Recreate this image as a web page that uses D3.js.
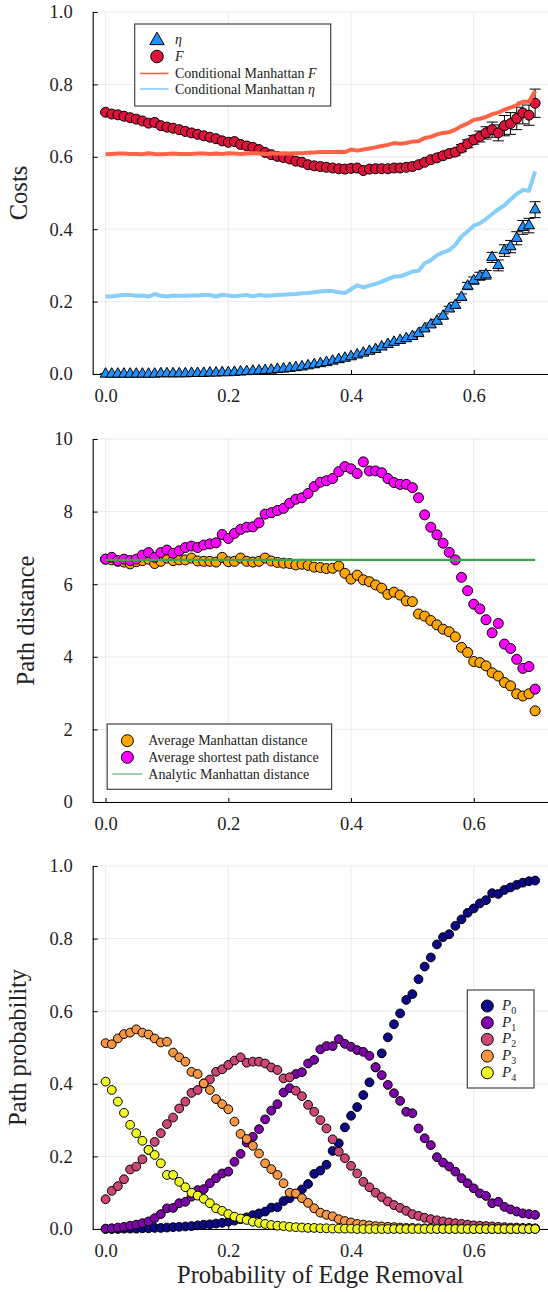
<!DOCTYPE html>
<html>
<head>
<meta charset="utf-8">
<script src="https://cdn.jsdelivr.net/npm/d3@7"></script>
<style>
  body { margin: 0; background: #fff; }
  svg text { font-family: "Liberation Serif", "Times New Roman", serif; fill: #222; }
</style>
</head>
<body>
<svg id="chart" width="548" height="1292"></svg>
<script>
// probability of edge removal, shared x for every series
var removal = [0.00,0.01,0.02,0.03,0.04,0.05,0.06,0.07,0.08,0.09,
  0.10,0.11,0.12,0.13,0.14,0.15,0.16,0.17,0.18,0.19,
  0.20,0.21,0.22,0.23,0.24,0.25,0.26,0.27,0.28,0.29,
  0.30,0.31,0.32,0.33,0.34,0.35,0.36,0.37,0.38,0.39,
  0.40,0.41,0.42,0.43,0.44,0.45,0.46,0.47,0.48,0.49,
  0.50,0.51,0.52,0.53,0.54,0.55,0.56,0.57,0.58,0.59,
  0.60,0.61,0.62,0.63,0.64,0.65,0.66,0.67,0.68,0.69,
  0.70];

// --- costs panel
var eta = [0.000,0.000,0.000,0.000,0.000,0.000,0.000,0.000,0.000,0.001,
  0.001,0.001,0.001,0.001,0.002,0.002,0.002,0.003,0.003,0.004,
  0.004,0.005,0.006,0.007,0.008,0.009,0.010,0.011,0.013,0.014,
  0.016,0.018,0.020,0.023,0.026,0.029,0.032,0.036,0.040,0.044,
  0.048,0.053,0.058,0.063,0.068,0.075,0.082,0.088,0.093,0.098,
  0.104,0.112,0.125,0.136,0.146,0.160,0.180,0.190,0.212,0.243,
  0.258,0.270,0.274,0.322,0.300,0.341,0.352,0.375,0.405,0.410,
  0.454];
var etaErr = [0.000,0.000,0.000,0.000,0.000,0.000,0.000,0.000,0.000,0.000,
  0.001,0.001,0.001,0.001,0.001,0.001,0.001,0.001,0.001,0.001,
  0.001,0.001,0.001,0.001,0.001,0.001,0.001,0.001,0.001,0.001,
  0.002,0.002,0.002,0.002,0.002,0.002,0.002,0.002,0.002,0.002,
  0.002,0.002,0.002,0.002,0.002,0.002,0.002,0.002,0.002,0.002,
  0.003,0.004,0.004,0.005,0.005,0.006,0.007,0.008,0.009,0.010,
  0.010,0.011,0.012,0.014,0.015,0.016,0.017,0.018,0.019,0.020,
  0.022];
var costF = [0.723,0.718,0.716,0.712,0.708,0.704,0.699,0.693,0.695,0.686,
  0.682,0.679,0.675,0.670,0.666,0.662,0.658,0.654,0.650,0.644,
  0.640,0.642,0.634,0.630,0.626,0.620,0.612,0.606,0.601,0.598,
  0.594,0.588,0.585,0.578,0.575,0.573,0.571,0.569,0.567,0.566,
  0.568,0.569,0.562,0.566,0.567,0.567,0.567,0.569,0.569,0.571,
  0.573,0.578,0.585,0.592,0.597,0.603,0.609,0.613,0.624,0.636,
  0.647,0.656,0.666,0.675,0.666,0.686,0.692,0.706,0.721,0.715,
  0.748];
var costFErr = [0.002,0.002,0.002,0.002,0.002,0.002,0.002,0.002,0.002,0.002,
  0.002,0.002,0.002,0.002,0.002,0.002,0.002,0.002,0.002,0.002,
  0.002,0.002,0.002,0.002,0.002,0.002,0.002,0.002,0.002,0.002,
  0.002,0.002,0.002,0.002,0.002,0.002,0.002,0.002,0.002,0.002,
  0.003,0.003,0.003,0.003,0.003,0.003,0.003,0.003,0.003,0.003,
  0.004,0.005,0.005,0.006,0.007,0.008,0.009,0.009,0.010,0.011,
  0.012,0.015,0.017,0.021,0.022,0.028,0.030,0.031,0.030,0.028,
  0.039];
var condF = [0.607,0.608,0.609,0.609,0.608,0.608,0.607,0.610,0.608,0.607,
  0.608,0.609,0.608,0.608,0.608,0.609,0.609,0.608,0.609,0.608,
  0.610,0.609,0.608,0.609,0.610,0.609,0.608,0.609,0.609,0.610,
  0.609,0.610,0.610,0.611,0.612,0.613,0.613,0.613,0.614,0.613,
  0.620,0.617,0.620,0.623,0.626,0.630,0.633,0.638,0.636,0.638,
  0.642,0.643,0.652,0.655,0.662,0.666,0.668,0.675,0.685,0.692,
  0.702,0.705,0.710,0.718,0.722,0.730,0.736,0.743,0.752,0.752,
  0.782];
var condEta = [0.214,0.214,0.217,0.218,0.218,0.216,0.217,0.214,0.221,0.216,
  0.214,0.217,0.216,0.216,0.217,0.217,0.218,0.218,0.214,0.219,
  0.217,0.215,0.217,0.218,0.215,0.218,0.216,0.217,0.218,0.219,
  0.220,0.221,0.223,0.224,0.226,0.228,0.229,0.229,0.226,0.224,
  0.234,0.245,0.239,0.244,0.249,0.255,0.262,0.269,0.270,0.276,
  0.283,0.285,0.306,0.314,0.328,0.336,0.342,0.357,0.380,0.394,
  0.410,0.416,0.428,0.442,0.455,0.466,0.482,0.497,0.508,0.506,
  0.560];

// --- path distance panel
var manhattan = [6.69,6.67,6.63,6.61,6.56,6.62,6.65,6.69,6.57,6.63,
  6.72,6.65,6.67,6.67,6.72,6.64,6.63,6.63,6.61,6.74,
  6.62,6.63,6.72,6.63,6.61,6.63,6.72,6.64,6.60,6.58,
  6.57,6.53,6.55,6.52,6.47,6.46,6.43,6.44,6.50,6.30,
  6.14,6.25,6.12,6.07,5.98,5.89,5.72,5.78,5.70,5.54,
  5.52,5.18,5.12,5.00,4.88,4.76,4.69,4.55,4.26,4.12,
  3.87,3.84,3.75,3.56,3.47,3.29,3.20,2.98,2.92,2.98,
  2.51];
var shortest = [6.69,6.74,6.65,6.69,6.65,6.69,6.80,6.87,6.74,6.87,
  6.94,6.85,6.92,7.01,7.05,7.01,7.08,7.11,7.14,7.37,
  7.26,7.40,7.51,7.57,7.58,7.69,7.93,7.97,8.03,8.09,
  8.23,8.34,8.38,8.50,8.69,8.81,8.85,8.91,9.10,9.24,
  9.18,9.05,9.37,9.12,9.12,9.07,8.91,8.80,8.75,8.75,
  8.66,8.38,7.91,7.57,7.36,7.13,6.88,6.67,6.19,5.82,
  5.45,5.32,5.02,4.66,4.92,4.35,4.23,3.93,3.68,3.73,
  3.11];
var analyticX = [0.0, 0.7];
var analytic = [6.67, 6.67];

// --- path probability panel
var p0 = [0.000,0.000,0.000,0.001,0.001,0.001,0.002,0.002,0.003,0.003,
  0.004,0.005,0.006,0.007,0.008,0.010,0.012,0.013,0.015,0.017,
  0.020,0.023,0.027,0.032,0.038,0.043,0.048,0.059,0.060,0.077,
  0.085,0.097,0.109,0.124,0.152,0.161,0.177,0.215,0.236,0.280,
  0.312,0.336,0.369,0.404,0.445,0.484,0.528,0.564,0.594,0.631,
  0.647,0.688,0.723,0.748,0.784,0.804,0.812,0.835,0.853,0.871,
  0.883,0.897,0.906,0.925,0.923,0.934,0.941,0.948,0.954,0.958,
  0.960];
var p1 = [0.001,0.002,0.004,0.006,0.009,0.012,0.016,0.021,0.030,0.041,
  0.057,0.058,0.071,0.075,0.089,0.107,0.110,0.126,0.140,0.153,
  0.158,0.185,0.207,0.238,0.254,0.275,0.302,0.326,0.344,0.376,
  0.388,0.427,0.432,0.456,0.466,0.495,0.504,0.504,0.523,0.510,
  0.502,0.493,0.488,0.477,0.446,0.424,0.397,0.374,0.353,0.323,
  0.319,0.277,0.250,0.231,0.198,0.183,0.172,0.158,0.140,0.126,
  0.112,0.098,0.091,0.071,0.075,0.061,0.054,0.048,0.043,0.041,
  0.039];
var p2 = [0.082,0.105,0.118,0.137,0.164,0.172,0.192,0.218,0.240,0.264,
  0.289,0.307,0.332,0.351,0.375,0.383,0.401,0.412,0.433,0.440,
  0.452,0.464,0.473,0.458,0.461,0.461,0.456,0.445,0.438,0.415,
  0.418,0.381,0.366,0.342,0.323,0.300,0.277,0.247,0.213,0.195,
  0.174,0.153,0.130,0.115,0.100,0.088,0.076,0.066,0.058,0.050,
  0.041,0.036,0.031,0.027,0.024,0.021,0.018,0.016,0.014,0.012,
  0.010,0.009,0.008,0.007,0.006,0.005,0.004,0.004,0.003,0.003,
  0.002];
var p3 = [0.512,0.509,0.525,0.537,0.541,0.550,0.541,0.536,0.525,0.514,
  0.516,0.486,0.473,0.461,0.433,0.427,0.401,0.383,0.358,0.344,
  0.330,0.296,0.262,0.248,0.229,0.208,0.181,0.165,0.149,0.126,
  0.100,0.098,0.085,0.072,0.057,0.045,0.039,0.035,0.027,0.022,
  0.018,0.014,0.012,0.010,0.008,0.007,0.006,0.005,0.004,0.003,
  0.003,0.002,0.002,0.002,0.001,0.001,0.001,0.001,0.001,0.001,
  0.000,0.000,0.000,0.000,0.000,0.000,0.000,0.000,0.000,0.000,
  0.000];
var p4 = [0.406,0.383,0.351,0.320,0.287,0.264,0.243,0.218,0.204,0.181,
  0.149,0.149,0.130,0.115,0.100,0.092,0.083,0.071,0.057,0.050,
  0.041,0.034,0.029,0.025,0.020,0.017,0.014,0.011,0.009,0.008,
  0.006,0.005,0.004,0.003,0.003,0.002,0.002,0.001,0.001,0.001,
  0.001,0.000,0.000,0.000,0.000,0.000,0.000,0.000,0.000,0.000,
  0.000,0.000,0.000,0.000,0.000,0.000,0.000,0.000,0.000,0.000,
  0.000,0.000,0.000,0.000,0.000,0.000,0.000,0.000,0.000,0.000,
  0.000];
var pathNames = ["0", "1", "2", "3", "4"];
var pathColors = ["#0d0887", "#7e03a8", "#cc4778", "#f89540", "#f0f921"];

var xTicks = [0, 0.2, 0.4, 0.6];
var unitTicks = [0, 0.2, 0.4, 0.6, 0.8, 1.0];
var distTicks = [0, 2, 4, 6, 8, 10];

var svg = d3.select("#chart");
var left = 92.7, right = 548;
var x = d3.scaleLinear().domain([-0.021, 0.721]).range([left, right]);

function panel(top, bottom, domain, ticks, fmt, labelX, label) {
  var y = d3.scaleLinear().domain(domain).range([bottom, top]);
  var g = svg.append("g");

  g.append("g").selectAll("line").data(xTicks).enter().append("line")
    .attr("x1", function(d) { return x(d); }).attr("x2", function(d) { return x(d); })
    .attr("y1", top).attr("y2", bottom)
    .attr("stroke", "#000").attr("stroke-opacity", 0.1).attr("stroke-width", 0.8);
  g.append("g").selectAll("line").data(ticks).enter().append("line")
    .attr("x1", left).attr("x2", right)
    .attr("y1", function(d) { return y(d); }).attr("y2", function(d) { return y(d); })
    .attr("stroke", "#000").attr("stroke-opacity", 0.1).attr("stroke-width", 0.8);

  var ya = g.append("g").attr("transform", "translate(" + left + ",0)")
    .call(d3.axisLeft(y).tickValues(ticks).tickFormat(d3.format(fmt))
      .tickSizeInner(-5).tickSizeOuter(0).tickPadding(20));
  var xa = g.append("g").attr("transform", "translate(0," + bottom + ")")
    .call(d3.axisBottom(x).tickValues(xTicks).tickFormat(d3.format(".1f"))
      .tickSizeInner(-4).tickSizeOuter(0).tickPadding(15));
  [ya, xa].forEach(function(a) {
    a.attr("font-family", null).attr("font-size", null);
    a.selectAll("text").attr("font-size", 18.5).style("fill", "#222");
    a.select(".domain").attr("stroke", "#000").attr("stroke-width", 1.1);
  });

  g.append("text")
    .attr("transform", "translate(" + labelX + "," + ((top + bottom) / 2) + ") rotate(-90)")
    .attr("text-anchor", "middle").attr("font-size", 24.5).text(label);
  return { g: g, y: y };
}

function dots(g, y, values, color, r) {
  g.append("g").selectAll("circle").data(values).enter().append("circle")
    .attr("cx", function(d, i) { return x(removal[i]); })
    .attr("cy", function(d) { return y(d); })
    .attr("r", r).attr("fill", color)
    .attr("stroke", "#000").attr("stroke-width", 1);
}

function errorBars(g, y, values, errs) {
  var e = g.append("g").attr("stroke", "#000").attr("stroke-width", 1);
  values.forEach(function(v, i) {
    var cx = x(removal[i]), lo = y(v - errs[i]), hi = y(v + errs[i]);
    e.append("line").attr("x1", cx).attr("x2", cx).attr("y1", lo).attr("y2", hi);
    e.append("line").attr("x1", cx - 5.5).attr("x2", cx + 5.5).attr("y1", lo).attr("y2", lo);
    e.append("line").attr("x1", cx - 5.5).attr("x2", cx + 5.5).attr("y1", hi).attr("y2", hi);
  });
}

function curve(g, y, xsArr, values, color, width) {
  var line = d3.line()
    .x(function(d, i) { return x(xsArr[i]); })
    .y(function(d) { return y(d); });
  g.append("path").datum(values)
    .attr("d", line).attr("fill", "none")
    .attr("stroke", color).attr("stroke-width", width)
    .attr("stroke-linejoin", "round");
}

function legendFrame(g, x0, y0, w, h) {
  g.append("rect").attr("x", x0).attr("y", y0).attr("width", w).attr("height", h)
    .attr("fill", "#fff").attr("stroke", "#444").attr("stroke-width", 1.2);
}

// ---------- panel 1: costs
var c = panel(12, 374, [0, 1], unitTicks, ".1f", 27, "Costs");
var tri = d3.symbol().type(d3.symbolTriangle);
errorBars(c.g, c.y, eta, etaErr);
c.g.append("g").selectAll("path").data(eta).enter().append("path")
  .attr("d", tri.size(52))
  .attr("transform", function(d, i) { return "translate(" + x(removal[i]) + "," + c.y(d) + ")"; })
  .attr("fill", "#1E90FF").attr("stroke", "#000").attr("stroke-width", 1);
errorBars(c.g, c.y, costF, costFErr);
dots(c.g, c.y, costF, "#DC143C", 5);
curve(c.g, c.y, removal, condF, "#FF6347", 4);
curve(c.g, c.y, removal, condEta, "#87CEFA", 4);

legendFrame(c.g, 134.7, 24, 196, 82);
c.g.append("path").attr("d", d3.symbol().type(d3.symbolTriangle).size(90)())
  .attr("transform", "translate(157,40.5)")
  .attr("fill", "#1E90FF").attr("stroke", "#000").attr("stroke-width", 1);
c.g.append("circle").attr("cx", 157).attr("cy", 56.5).attr("r", 6.3)
  .attr("fill", "#DC143C").attr("stroke", "#000").attr("stroke-width", 1);
c.g.append("line").attr("x1", 140).attr("x2", 168.5).attr("y1", 73.5).attr("y2", 73.5)
  .attr("stroke", "#FF6347").attr("stroke-width", 1.6);
c.g.append("line").attr("x1", 140).attr("x2", 168.5).attr("y1", 89).attr("y2", 89)
  .attr("stroke", "#87CEFA").attr("stroke-width", 1.6);
c.g.append("text").attr("x", 175).attr("y", 43.5).attr("font-size", 14)
  .attr("font-style", "italic").text("η");
c.g.append("text").attr("x", 175).attr("y", 61).attr("font-size", 14)
  .attr("font-style", "italic").text("F");
var lf = c.g.append("text").attr("x", 175).attr("y", 78).attr("font-size", 14);
lf.append("tspan").text("Conditional Manhattan ");
lf.append("tspan").attr("font-style", "italic").text("F");
var le = c.g.append("text").attr("x", 175).attr("y", 93.5).attr("font-size", 14);
le.append("tspan").text("Conditional Manhattan ");
le.append("tspan").attr("font-style", "italic").text("η");

// ---------- panel 2: path distance
var p = panel(439, 802, [0, 10], distTicks, "d", 34, "Path distance");
dots(p.g, p.y, manhattan, "#FFA500", 5);
dots(p.g, p.y, shortest, "#FF00FF", 5);
curve(p.g, p.y, analyticX, analytic, "#3EA44E", 2.2);

legendFrame(p.g, 107.2, 724, 224.4, 65.3);
p.g.append("circle").attr("cx", 127.4).attr("cy", 740.7).attr("r", 6)
  .attr("fill", "#FFA500").attr("stroke", "#000").attr("stroke-width", 1);
p.g.append("circle").attr("cx", 127.4).attr("cy", 757.3).attr("r", 6)
  .attr("fill", "#FF00FF").attr("stroke", "#000").attr("stroke-width", 1);
p.g.append("line").attr("x1", 112.4).attr("x2", 142.4).attr("y1", 774).attr("y2", 774)
  .attr("stroke", "#3EA44E").attr("stroke-width", 1);
[["Average Manhattan distance", 740.7], ["Average shortest path distance", 757.3],
 ["Analytic Manhattan distance", 774]].forEach(function(t) {
  p.g.append("text").attr("x", 148.3).attr("y", t[1] + 4.5).attr("font-size", 14).text(t[0]);
});

// ---------- panel 3: path probability
var q = panel(866, 1229, [0, 1], unitTicks, ".1f", 26, "Path probability");
[p0, p1, p2, p3, p4].forEach(function(s, k) {
  dots(q.g, q.y, s, pathColors[k], 4.4);
});

legendFrame(q.g, 467.3, 990, 66.7, 98);
pathNames.forEach(function(n, k) {
  var cy = 1006 + k * 16.7;
  q.g.append("circle").attr("cx", 487.3).attr("cy", cy).attr("r", 6)
    .attr("fill", pathColors[k]).attr("stroke", "#000").attr("stroke-width", 1);
  var t = q.g.append("text").attr("x", 502).attr("y", cy + 4).attr("font-size", 15);
  t.append("tspan").attr("font-style", "italic").text("P");
  t.append("tspan").attr("font-size", 10).attr("dy", 4).text(n);
});

svg.append("text").attr("x", 320.3).attr("y", 1283)
  .attr("text-anchor", "middle").attr("font-size", 24.5)
  .text("Probability of Edge Removal");
</script>
</body>
</html>
